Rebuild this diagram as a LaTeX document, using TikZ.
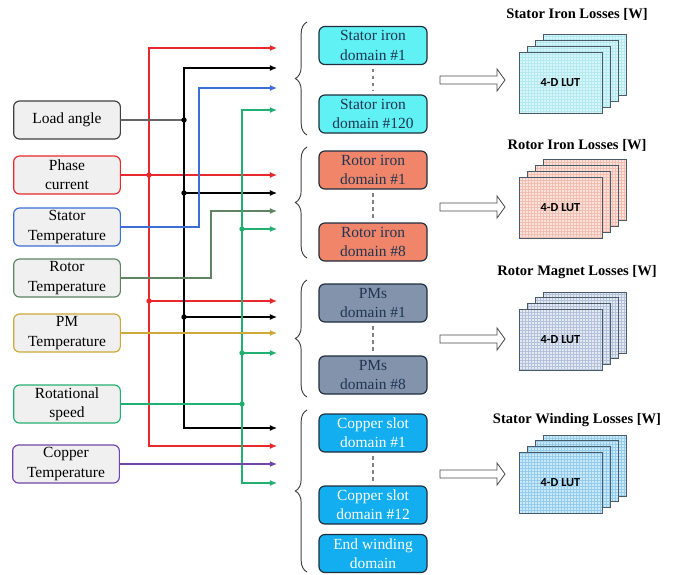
\documentclass[tikz,border=0pt]{standalone}
\usepackage{tkz-euclide}
\usepackage{fontspec}
\setmainfont{Liberation Serif}
\newfontfamily\lutfont{Carlito}
\usetikzlibrary{arrows.meta,decorations.pathreplacing}

\definecolor{boxgray}{HTML}{F0F0F0}
\definecolor{lacol}{HTML}{404040}
\definecolor{pccol}{HTML}{E8282C}
\definecolor{stcol}{HTML}{3B6FD6}
\definecolor{rtcol}{HTML}{5E8462}
\definecolor{pmcol}{HTML}{CDA935}
\definecolor{rscol}{HTML}{22B072}
\definecolor{cucol}{HTML}{7445A8}
\definecolor{sifill}{HTML}{5FF1F4}
\definecolor{rifill}{HTML}{F1856A}
\definecolor{pmfill}{HTML}{8393AC}
\definecolor{cufill}{HTML}{12AEEF}
\definecolor{domline}{HTML}{1E2E3C}
\definecolor{domtext}{HTML}{1F3550}
\definecolor{lutsi}{HTML}{D6F7FA}
\definecolor{gridsi}{HTML}{B5E9EF}
\definecolor{lutri}{HTML}{FBE1D9}
\definecolor{gridri}{HTML}{F0BFB2}
\definecolor{lutpm}{HTML}{E4E9F2}
\definecolor{gridpm}{HTML}{B3C1DB}
\definecolor{lutcu}{HTML}{C9EBF9}
\definecolor{gridcu}{HTML}{96CBEB}
\definecolor{lutline}{HTML}{4A5A66}

\tikzset{
    inbox/.style={draw, fill=boxgray, rounded corners=5pt, line width=1pt,
        minimum width=3.2cm, minimum height=1.14cm, inner sep=1pt, align=center,
        font=\rmfamily\fontsize{13.2}{16.5}\selectfont},
    dombox/.style={draw=domline, rounded corners=5pt, line width=1pt,
        minimum width=3.24cm, minimum height=1.14cm, inner sep=1pt, align=center,
        font=\rmfamily\fontsize{13.2}{16.5}\selectfont, text=domtext},
    wire/.style={line width=0.9pt},
    tip/.style={-{Latex[length=6pt,width=5pt]}},
    tipboth/.style={{Latex[length=6pt,width=5pt]}-{Latex[length=6pt,width=5pt]}},
    dotline/.style={dashed, gray, line width=1.4pt, shorten <=3pt, shorten >=3pt},
    bracket/.style={decorate, decoration={brace, amplitude=0.35cm}, line width=0.8pt, black!75},
    hollow/.style={draw=black!70, fill=white, line width=0.7pt},
    losstitle/.style={font=\rmfamily\bfseries\fontsize{12.4}{14}\selectfont},
    lutlabel/.style={font=\lutfont\bfseries\fontsize{10.5}{12}\selectfont}
}

\begin{document}
\begin{tikzpicture}[x=0.03cm, y=-0.03cm]
    \useasboundingbox (0,0) rectangle (678,574);
    % Inputs
    \node[inbox, draw=lacol] (load) at (67,120) {Load angle};
    \node[inbox, draw=pccol] (phase) at (67,175) {Phase\\current};
    \node[inbox, draw=stcol] (stator) at (67,227) {Stator\\Temperature};
    \node[inbox, draw=rtcol] (rotor) at (67,278) {Rotor\\Temperature};
    \node[inbox, draw=pmcol] (pm) at (67,333) {PM\\Temperature};
    \node[inbox, draw=rscol] (speed) at (67,404) {Rotational\\speed};
    \node[inbox, draw=cucol] (copper) at (66,464) {Copper\\Temperature};
    % Points
    \tkzDefPoint(149,48){rtop}   \tkzDefPoint(149,446){rbot}
    \tkzDefPoint(149,175){rj1}   \tkzDefPoint(149,301){rj2}
    \tkzDefPoint(277,48){ra1}    \tkzDefPoint(277,175){ra2}
    \tkzDefPoint(277,301){ra3}   \tkzDefPoint(277,446){ra4}
    \tkzDefPoint(184,68){btop}   \tkzDefPoint(184,428){bbot}
    \tkzDefPoint(184,120){bj1}   \tkzDefPoint(184,193){bj2}
    \tkzDefPoint(184,317){bj3}
    \tkzDefPoint(277,68){ba1}    \tkzDefPoint(277,193){ba2}
    \tkzDefPoint(277,317){ba3}   \tkzDefPoint(277,428){ba4}
    \tkzDefPoint(199,227){sc1}   \tkzDefPoint(199,88){sc2}
    \tkzDefPoint(277,88){sa}
    \tkzDefPoint(211,278){tc1}   \tkzDefPoint(211,211){tc2}
    \tkzDefPoint(277,211){ta}
    \tkzDefPoint(242,110){gtop}  \tkzDefPoint(242,483){gbot}
    \tkzDefPoint(242,229){gj1}   \tkzDefPoint(242,353){gj2}
    \tkzDefPoint(242,404){gj3}
    \tkzDefPoint(277,110){ga1}   \tkzDefPoint(277,229){ga2}
    \tkzDefPoint(277,353){ga3}   \tkzDefPoint(277,483){ga4}
    \tkzDefPoint(277,333){pa}    \tkzDefPoint(277,464){ca}
    % Drawing
    \draw[wire,pccol,tipboth] (ra1) -- (rtop) -- (rbot) -- (ra4);
    \tkzDrawSegments[wire,pccol,tip](phase.east,ra2 rj2,ra3)
    \tkzDrawSegments[wire,black!60](load.east,bj1)
    \draw[wire,black,tipboth] (ba1) -- (btop) -- (bbot) -- (ba4);
    \tkzDrawSegments[wire,black,tip](bj2,ba2 bj3,ba3)
    \draw[wire,stcol,tip] (stator.east) -- (sc1) -- (sc2) -- (sa);
    \draw[wire,rtcol,tip] (rotor.east) -- (tc1) -- (tc2) -- (ta);
    \tkzDrawSegments[wire,rscol](speed.east,gj3)
    \draw[wire,rscol,tipboth] (ga1) -- (gtop) -- (gbot) -- (ga4);
    \tkzDrawSegments[wire,rscol,tip](gj1,ga2 gj2,ga3)
    \tkzDrawSegments[wire,pmcol,tip](pm.east,pa)
    \tkzDrawSegments[wire,cucol,tip](copper.east,ca)
    \foreach \p in {rj1,rj2} \fill[pccol] (\p) circle (2.3pt);
    \foreach \p in {bj1,bj2,bj3} \fill[black] (\p) circle (2.3pt);
    \foreach \p in {gj1,gj2,gj3} \fill[rscol] (\p) circle (2.3pt);
    % Domains
    \node[dombox, fill=sifill] (si1) at (373,45.5) {Stator iron\\domain \#1};
    \node[dombox, fill=sifill] (si2) at (373,114) {Stator iron\\domain \#120};
    \node[dombox, fill=rifill] (ri1) at (373,170) {Rotor iron\\domain \#1};
    \node[dombox, fill=rifill] (ri2) at (373,242) {Rotor iron\\domain \#8};
    \node[dombox, fill=pmfill] (pm1) at (373,303) {PMs\\domain \#1};
    \node[dombox, fill=pmfill] (pm2) at (373,375) {PMs\\domain \#8};
    \node[dombox, fill=cufill, text=white] (cu1) at (373,433) {Copper slot\\domain \#1};
    \node[dombox, fill=cufill, text=white] (cu2) at (373,505) {Copper slot\\domain \#12};
    \node[dombox, fill=cufill, text=white] (ew) at (373,553.5) {End winding\\domain};
    \draw[dotline] (si1.south) -- (si2.north);
    \draw[dotline] (ri1.south) -- (ri2.north);
    \draw[dotline] (pm1.south) -- (pm2.north);
    \draw[dotline] (cu1.south) -- (cu2.north);
    % Braces
    \draw[bracket] (307,135) -- (307,22);
    \draw[bracket] (307,258) -- (307,147);
    \draw[bracket] (307,397) -- (307,280);
    \draw[bracket] (307,572) -- (307,410);
    % Hollow arrows
    \foreach \y in {80,207,339,474}
        \draw[hollow] (440,\y-4) -- (497,\y-4) -- (497,\y-11) -- (505,\y)
            -- (497,\y+11) -- (497,\y+4) -- (440,\y+4) -- cycle;
    % Look-up tables
    \foreach \top/\fc/\gc [count=\i] in {52/lutsi/gridsi, 177/lutri/gridri,
            309/lutpm/gridpm, 452/lutcu/gridcu} {
        \foreach \k in {3,2,1,0} {
            \fill[\fc] (519+8*\k,\top-5.7*\k) rectangle (602+8*\k,\top+61-5.7*\k);
            \draw[\gc, line width=0.2pt, step=0.09cm]
                (519+8*\k,\top-5.7*\k) grid (602+8*\k,\top+61-5.7*\k);
            \draw[lutline, line width=0.7pt]
                (519+8*\k,\top-5.7*\k) rectangle (602+8*\k,\top+61-5.7*\k);
        }
        \node[lutlabel] (lut\i) at (560.5,\top+30.5) {4-D LUT};
    }
    % Labels
    \node[losstitle] (t1) at (577,14) {Stator Iron Losses [W]};
    \node[losstitle] (t2) at (577,145) {Rotor Iron Losses [W]};
    \node[losstitle] (t3) at (577,272) {Rotor Magnet Losses [W]};
    \node[losstitle] (t4) at (577,420) {Stator Winding Losses [W]};
\end{tikzpicture}
\end{document}
